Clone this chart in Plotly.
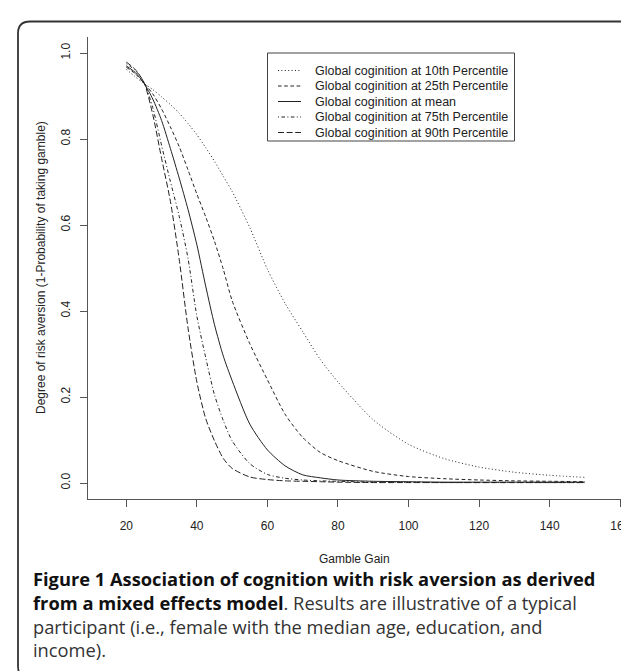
import plotly.graph_objects as go

# ---------------- data ----------------
gamble_gain = [20, 22.5, 25, 27.5, 30, 32.5, 35, 37.5, 40, 42.5, 45, 47.5, 50,
               55, 60, 65, 70, 75, 80, 90, 100, 110, 120, 130, 140, 150]

p10 = [0.962, 0.945, 0.929, 0.915, 0.898, 0.880, 0.860, 0.836, 0.810, 0.780, 0.748, 0.713, 0.678,
       0.594, 0.497, 0.418, 0.352, 0.287, 0.235, 0.147, 0.090, 0.057, 0.037, 0.025, 0.018, 0.013]
p25 = [0.967, 0.952, 0.930, 0.905, 0.870, 0.828, 0.782, 0.728, 0.672, 0.619, 0.562, 0.497, 0.424,
       0.324, 0.240, 0.160, 0.106, 0.071, 0.052, 0.027, 0.015, 0.010, 0.007, 0.005, 0.004, 0.003]
p_mean = [0.970, 0.955, 0.930, 0.893, 0.843, 0.778, 0.709, 0.636, 0.554, 0.458, 0.368, 0.295, 0.238,
          0.137, 0.077, 0.040, 0.019, 0.012, 0.007, 0.004, 0.003, 0.002, 0.002, 0.002, 0.002, 0.002]
p75 = [0.975, 0.960, 0.932, 0.873, 0.785, 0.701, 0.620, 0.522, 0.388, 0.292, 0.205, 0.145, 0.098,
       0.045, 0.020, 0.011, 0.007, 0.005, 0.004, 0.002, 0.0015, 0.001, 0.001, 0.001, 0.001, 0.001]
p90 = [0.979, 0.962, 0.932, 0.857, 0.755, 0.655, 0.520, 0.360, 0.235, 0.150, 0.098, 0.057, 0.034,
       0.014, 0.008, 0.005, 0.004, 0.003, 0.002, 0.001, 0.001, 0.001, 0.001, 0.001, 0.001, 0.001]

series_names = [
    "Global coginition at 10th Percentile",
    "Global coginition at 25th Percentile",
    "Global coginition at mean",
    "Global coginition at 75th Percentile",
    "Global coginition at 90th Percentile",
]
series_values = [p10, p25, p_mean, p75, p90]
series_dash = ["1px,2.4px", "3.6px,2.6px", "solid", "1px,2.4px,3.6px,2.4px", "6px,2.6px"]

x_ticks = [20, 40, 60, 80, 100, 120, 140, 160]
y_ticks = [0.0, 0.2, 0.4, 0.6, 0.8, 1.0]

x_title = "Gamble Gain"
y_title = "Degree of risk aversion (1-Probability of taking gamble)"
caption_lines = [
    "<b>Figure 1 Association of cognition with risk aversion as derived</b>",
    "<b>from a mixed effects model</b><span style='color:#333333'>. Results are illustrative of a typical</span>",
    "<span style='color:#333333'>participant (i.e., female with the median age, education, and</span>",
    "<span style='color:#333333'>income).</span>",
]

# ---------------- layout geometry ----------------
W, H = 629, 671
ML, MR, MT, MB = 80, 16, 29, 180
PW, PH = W - ML - MR, H - MT - MB

def fx(px):
    return (px - ML) / PW

def fy(py):
    return (H - MB - py) / PH

AX_FONT = "Liberation Sans, Arial, Helvetica, sans-serif"
LINE_COL = "#222222"
AXIS_COL = "#555555"

fig = go.Figure()
for name, vals, dash in zip(series_names, series_values, series_dash):
    fig.add_trace(go.Scatter(
        x=gamble_gain, y=vals, mode="lines", name=name,
        line=dict(color=LINE_COL, width=1, dash=dash, shape="spline", smoothing=0.7),
        showlegend=False,
    ))

shapes = []
annotations = []

# hand-made legend (box, line samples, labels)
leg_x0, leg_x1, leg_y0, leg_y1 = 259.5, 506.5, 45, 133
shapes.append(dict(type="rect", xref="paper", yref="paper",
                   x0=fx(leg_x0), x1=fx(leg_x1), y0=fy(leg_y1), y1=fy(leg_y0),
                   line=dict(color="#444444", width=1), fillcolor="rgba(0,0,0,0)"))
row_y = [62.5, 78.0, 93.5, 109.0, 124.5]
for ry, name, dash in zip(row_y, series_names, series_dash):
    shapes.append(dict(type="line", xref="paper", yref="paper",
                       x0=fx(270), x1=fx(293), y0=fy(ry), y1=fy(ry),
                       line=dict(color=LINE_COL, width=1, dash=dash)))
    annotations.append(dict(text=name, xref="paper", yref="paper",
                            x=fx(304.5), y=fy(ry), xanchor="left", yanchor="middle",
                            showarrow=False,
                            font=dict(family=AX_FONT, size=12.5, color="#222222")))

# axis titles
annotations.append(dict(text=x_title, xref="paper", yref="paper",
                        x=fx((ML + W - MR) / 2), y=fy(551), xanchor="center", yanchor="middle",
                        showarrow=False, font=dict(family=AX_FONT, size=12, color="#222222")))
annotations.append(dict(text=y_title, xref="paper", yref="paper",
                        x=fx(33), y=fy(260), xanchor="center", yanchor="middle", textangle=-90,
                        showarrow=False, font=dict(family=AX_FONT, size=12, color="#222222")))

# caption (one text block, four lines)
annotations.append(dict(text="<br>".join(caption_lines), xref="paper", yref="paper",
                        x=fx(23), y=fy(556), xanchor="left", yanchor="top", align="left",
                        showarrow=False,
                        font=dict(family="Open Sans, sans-serif", size=18.3, color="#111111")))

# rounded outer frame
fl, ft, fr, fb, rad = 10, 13.5, 650, 670.5, 12
path = (f"M {fx(fl)},{fy(ft + rad)} "
        f"Q {fx(fl)},{fy(ft)} {fx(fl + rad)},{fy(ft)} "
        f"L {fx(fr)},{fy(ft)} "
        f"M {fx(fl)},{fy(ft + rad)} "
        f"L {fx(fl)},{fy(fb - rad)} "
        f"Q {fx(fl)},{fy(fb)} {fx(fl + rad)},{fy(fb)} "
        f"L {fx(fr)},{fy(fb)}")
shapes.append(dict(type="path", xref="paper", yref="paper", path=path,
                   line=dict(color="#333333", width=1.8)))

x_lo = 20 - (118.3 - ML) / 3.528
x_hi = x_lo + PW / 3.528
y_lo = -16 / 430
y_hi = 1 + 16 / 430

fig.update_layout(
    width=W, height=H,
    margin=dict(l=ML, r=MR, t=MT, b=MB, pad=0),
    paper_bgcolor="white", plot_bgcolor="white",
    showlegend=False,
    shapes=shapes, annotations=annotations,
    font=dict(family=AX_FONT, size=12, color="#222222"),
    xaxis=dict(range=[x_lo, x_hi], tickvals=x_ticks, ticktext=[str(v) for v in x_ticks],
               showgrid=False, zeroline=False, showline=True, linecolor=AXIS_COL, linewidth=1,
               ticks="outside", ticklen=7, tickcolor=AXIS_COL, tickwidth=1,
               tickfont=dict(family=AX_FONT, size=12, color="#222222"),
               ticklabelstandoff=9, automargin=False),
    yaxis=dict(range=[y_lo, y_hi], tickvals=y_ticks, ticktext=[f"{v:.1f}" for v in y_ticks],
               showgrid=False, zeroline=False, showline=True, linecolor=AXIS_COL, linewidth=1,
               ticks="outside", ticklen=7, tickcolor=AXIS_COL, tickwidth=1, tickangle=-90,
               tickfont=dict(family=AX_FONT, size=12, color="#222222"),
               ticklabelstandoff=5, automargin=False),
)

fig.write_html("out.html")
